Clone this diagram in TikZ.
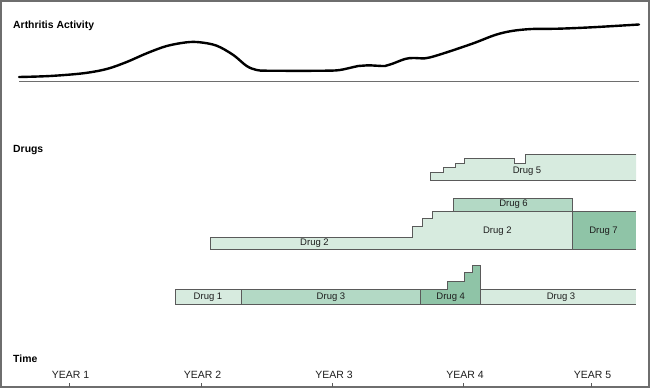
\documentclass[tikz,border=0pt]{standalone}
\usepackage{fontspec}
\setmainfont{Liberation Sans}
\definecolor{frame}{HTML}{6E6E6E}
\definecolor{edge}{HTML}{5A5A5A}
\definecolor{lightg}{HTML}{D7EBDF}
\definecolor{midg}{HTML}{B3D9C5}
\definecolor{darkg}{HTML}{8FC4A7}
\definecolor{txt}{HTML}{1E1E1E}
\tikzset{
  heading/.style={anchor=base west, inner sep=0pt, text=black, font=\fontsize{10.4}{12}\selectfont\bfseries},
  druglabel/.style={inner sep=0pt, text=txt, font=\fontsize{9.5}{11}\selectfont},
  yearlabel/.style={anchor=base, inner sep=0pt, text=txt, font=\fontsize{10.5}{12}\selectfont},
  boxline/.style={draw=edge, line width=0.8pt, line join=miter},
  tickline/.style={draw=edge, line width=0.9pt},
}
\begin{document}
\begin{tikzpicture}[x=1pt,y=-1pt]
\useasboundingbox (0,0) rectangle (650,388);
% frame
\draw[frame, line width=1.5pt] (0.8,0.8) rectangle (649.2,387.2);

% headings
\node[heading] (hact) at (13,28) {Arthritis Activity};
\node[heading] (hdrugs) at (13,152) {Drugs};
\node[heading] (htime) at (13,362) {Time};

% activity baseline and curve
\coordinate (bl) at (19,81.5);
\coordinate (br) at (639,81.5);
\draw[frame, line width=1.5pt] (bl) -- (br);
\draw[black, line width=2.4pt, line cap=round, line join=round]
  plot[smooth, tension=0.55] coordinates {
  (19,77) (50,76) (83,73.3) (106.7,69) (126.7,62) (146.7,53.3) (166.7,46)
  (186.7,42.3) (200,42.3) (216.7,45.7) (233.3,55) (246.7,66) (256.7,70)
  (266.7,70.7) (300,70.8) (325,70.7) (340,70) (358.3,66) (368,65.3) (385,66)
  (391.7,64) (405,59) (413,58) (425,58.3) (435,56) (451.7,50.7) (475,42.7)
  (495,35) (511.7,31) (531.7,29) (558,28.7) (591.7,27.3) (639,24.5)};

% Drug 5
\fill[lightg] (430.7,180) -- (430.7,172.3) -- (443.5,172.3) -- (443.5,167.7)
  -- (455.5,167.7) -- (455.5,163.3) -- (464.3,163.3) -- (464.3,158.5)
  -- (514.5,158.5) -- (514.5,163.3) -- (525,163.3) -- (525,154) -- (636,154)
  -- (636,180) -- cycle;
\draw[boxline] (636,154) -- (525,154) -- (525,163.3) -- (514.5,163.3)
  -- (514.5,158.5) -- (464.3,158.5) -- (464.3,163.3) -- (455.5,163.3)
  -- (455.5,167.7) -- (443.5,167.7) -- (443.5,172.3) -- (430.7,172.3)
  -- (430.7,180) -- (636,180);
\node[druglabel] (d5) at (527,171.5) {Drug 5};

% Drug 6
\filldraw[midg, boxline] (453.3,198) rectangle (572.3,211.3);
\node[druglabel] (d6) at (513.5,204.5) {Drug 6};

% Drug 2
\filldraw[lightg, boxline] (210.7,237) -- (412,237) -- (412,226.5) -- (422.3,226.5)
  -- (422.3,218.7) -- (432.7,218.7) -- (432.7,211.3) -- (572.3,211.3)
  -- (572.3,249.3) -- (210.7,249.3) -- cycle;
\node[druglabel] (d2a) at (314.5,243.5) {Drug 2};
\node[druglabel] (d2b) at (497.3,231) {Drug 2};

% Drug 7
\fill[darkg] (572.3,211.3) rectangle (636,249.3);
\draw[boxline] (636,211.3) -- (572.3,211.3) -- (572.3,249.3) -- (636,249.3);
\node[druglabel] (d7) at (603.5,231) {Drug 7};

% Drug 1
\filldraw[lightg, boxline] (175.3,289) rectangle (241.3,304);
\node[druglabel] (d1) at (208,297) {Drug 1};
% Drug 3 (first)
\filldraw[midg, boxline] (241.3,289) rectangle (420.7,304);
\node[druglabel] (d3a) at (331,297) {Drug 3};
% Drug 4
\filldraw[darkg, boxline] (420.7,304) -- (420.7,289) -- (447.3,289) -- (447.3,281)
  -- (464,281) -- (464,272.7) -- (472.7,272.7) -- (472.7,265.7) -- (480.7,265.7)
  -- (480.7,304) -- cycle;
\node[druglabel] (d4) at (450.7,297) {Drug 4};
% Drug 3 (second)
\fill[lightg] (480.7,289) rectangle (636,304);
\draw[boxline] (636,289) -- (480.7,289) -- (480.7,304) -- (636,304);
\node[druglabel] (d3b) at (561,297) {Drug 3};

% time axis
\foreach \xx/\lab/\nm in {69/YEAR 1/y1, 201/YEAR 2/y2, 332.5/YEAR 3/y3, 463.5/YEAR 4/y4, 591/YEAR 5/y5}{
  \node[yearlabel] (\nm) at (\xx+1.5,378.5) {\lab};
  \draw[tickline] (\xx,383) -- (\xx,387);
}
\end{tikzpicture}
\end{document}
